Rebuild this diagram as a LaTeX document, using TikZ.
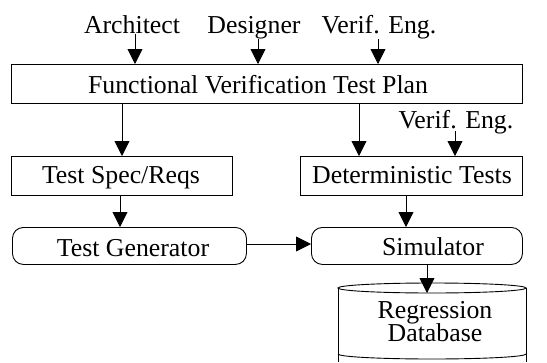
\documentclass[tikz,border=0pt]{standalone}
\usepackage{fontspec}
\setmainfont{Liberation Serif}
\usetikzlibrary{arrows.meta}
\newcommand\diagfont{\fontsize{25.8}{23}\selectfont\lineskiplimit-30pt\relax}
\begin{document}
\begin{tikzpicture}[x=1pt,y=-1pt,line width=0.9pt,
  txt/.style={font=\diagfont, inner sep=0pt, anchor=base},
  box/.style={draw, inner sep=0pt, anchor=north west},
  rbox/.style={box, rounded corners=11pt},
  arr/.style={-{Triangle[length=15pt,width=15pt]}}]
  \clip (0,0) rectangle (547,362);

  % contributors
  \node[txt] (arch) at (132,33) {Architect};
  \node[txt] (des)  at (254,33) {Designer};
  \node[txt] (ve1)  at (379,33) {Verif. Eng.};

  % test plan
  \node[box, minimum width=511pt, minimum height=39pt] (plan) at (11,64) {};
  \node[txt] (plantxt) at (258,93) {Functional Verification Test Plan};

  % second row
  \node[box, minimum width=221pt, minimum height=39pt] (spec) at (11,156) {};
  \node[txt] (spectxt) at (121,183) {Test Spec/Reqs};
  \node[box, minimum width=222pt, minimum height=39pt] (det) at (300,156) {};
  \node[txt] (dettxt) at (412,183) {Deterministic Tests};
  \node[txt] (ve2) at (456,128) {Verif. Eng.};

  % generator and simulator
  \node[rbox, minimum width=234pt, minimum height=37pt] (gen) at (12,227) {};
  \node[txt] (gentxt) at (133,256) {Test Generator};
  \node[rbox, minimum width=211pt, minimum height=37pt] (sim) at (311,227) {};
  \node[txt] (simtxt) at (433,255) {Simulator};

  % regression database (cylinder)
  \draw (432,288) ellipse [x radius=94pt, y radius=5pt];
  \draw (338,288) -- (338,362) (526,288) -- (526,362);
  \draw (338,354) arc[start angle=180, end angle=360, x radius=94pt, y radius=5pt];
  \coordinate (dbtop) at (427,293);
  \node[txt, align=center] (db) at (435,341) {Regression\\Database};

  % connectors
  \draw[arr] (arch.south -| 135,0) -- (plan.north -| 135,0);
  \draw[arr] (des.south -| 258,0) -- (plan.north -| 258,0);
  \draw[arr] (ve1.south -| 378,0) -- (plan.north -| 378,0);
  \draw[arr] (plan.south -| 122,0) -- (spec.north -| 122,0);
  \draw[arr] (plan.south -| 359,0) -- (det.north -| 359,0);
  \draw[arr] ([yshift=-3pt]ve2.base -| 455,0) -- (det.north -| 455,0);
  \draw[arr] (spec.south -| 120,0) -- (gen.north -| 120,0);
  \draw[arr] (det.south -| 406,0) -- (sim.north -| 406,0);
  \draw[arr] (gen.east |- 0,244) -- (sim.west |- 0,244);
  \draw[arr] (sim.south -| 427,0) -- (dbtop);
\end{tikzpicture}
\end{document}
